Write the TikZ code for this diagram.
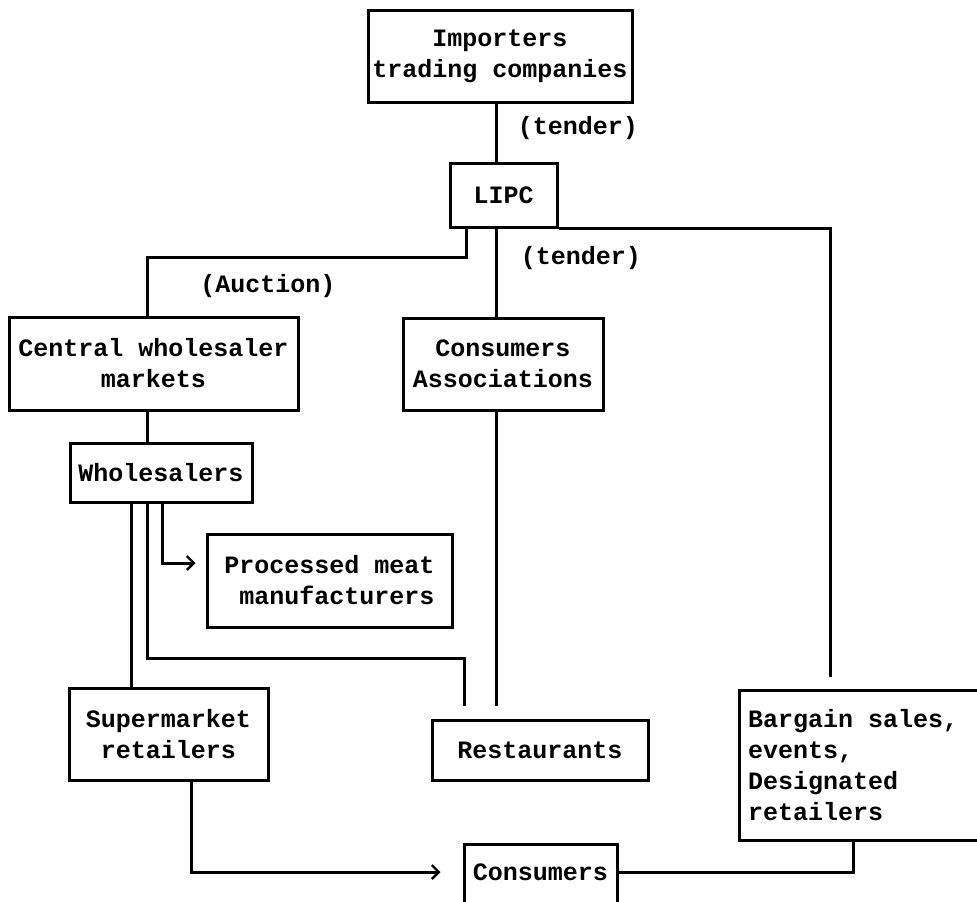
\documentclass[tikz,border=0pt]{standalone}
\usepackage{fontspec}
\setmonofont{Liberation Mono}
\usetikzlibrary{arrows.meta}
\begin{document}
\begin{tikzpicture}[x=1pt,y=-1pt,
  every node/.style={font=\ttfamily\bfseries\fontsize{25}{31}\selectfont},
  box/.style={draw, line width=3pt, rectangle, inner sep=0pt, align=center},
  lbl/.style={inner sep=0pt},
  conn/.style={line width=3pt},
  tipped/.style={conn, -{Straight Barb[length=7pt,width=14pt,line width=2.4pt]}}]
\useasboundingbox (0,0) rectangle (977,902);
\clip (0,0) rectangle (977,902);

% boxes
\node[box, minimum width=264pt, minimum height=92pt] (imp) at (500,56) {Importers\\trading companies};
\node[box, minimum width=107pt, minimum height=64pt] (lipc) at (503.5,195) {LIPC};
\node[box, minimum width=289pt, minimum height=93pt] (central) at (153.5,363.5) {Central wholesaler\\markets};
\node[box, minimum width=200pt, minimum height=92pt] (consassoc) at (503,364) {Consumers\\Associations};
\node[box, minimum width=182pt, minimum height=59pt] (whole) at (161,472.5) {Wholesalers};
\node[box, minimum width=245pt, minimum height=93pt, align=right] (proc) at (329.5,580.5) {Processed meat\\manufacturers};
\node[box, minimum width=199pt, minimum height=92pt] (super) at (168.5,734) {Supermarket\\retailers};
\node[box, minimum width=216pt, minimum height=60pt] (rest) at (540,750) {Restaurants};
\node[box, minimum width=251pt, minimum height=150pt, text width=233pt, align=flush left] (bargain) at (864.5,765) {Bargain\ sales,\\events,\\Designated\\retailers};
\node[box, anchor=north, minimum width=153pt, text height=14pt, text depth=45pt, inner ysep=22pt] (cons) at (540.5,843) {Consumers};

% labels
\node[lbl] (tender1) at (578,128) {(tender)};
\node[lbl] (tender2) at (581,258) {(tender)};
\node[lbl] (auction) at (268,286) {(Auction)};

% column / level coordinates
\coordinate (xA) at (131,0);
\coordinate (xB) at (147,0);
\coordinate (xC) at (162,0);
\coordinate (xL) at (466,0);
\coordinate (xM) at (496,0);
\coordinate (xR) at (830,0);
\coordinate (xR2) at (464,0);
\coordinate (xS) at (191,0);
\coordinate (xT) at (853,0);
\coordinate (yAuc) at (0,257);
\coordinate (yRest) at (0,658);
\coordinate (yProc) at (0,563);
\coordinate (yC) at (0,872);

% connectors
\draw[conn] (imp.south -| xM) -- (lipc.north -| xM);
\draw[conn] (lipc.south -| xL) |- (yAuc -| xB) -- (central.north -| xB);
\draw[conn] (lipc.south -| xM) -- (consassoc.north -| xM);
\draw[conn, shorten >=12pt] (lipc.south east) -| (bargain.north -| xR);
\draw[conn] (central.south -| xB) -- (whole.north -| xB);
\draw[conn] (whole.south -| xA) -- (super.north -| xA);
\draw[conn, shorten >=13pt] (whole.south -| xB) |- (yRest -| xR2) -- (rest.north -| xR2);
\draw[tipped, shorten >=10pt] (whole.south -| xC) |- (proc.west |- yProc);
\draw[conn, shorten >=13pt] (consassoc.south -| xM) -- (rest.north -| xM);
\draw[tipped, shorten >=22pt] (super.south -| xS) |- (cons.west |- yC);
\draw[conn] (cons.east |- yC) -| (bargain.south -| xT);
\end{tikzpicture}
\end{document}
